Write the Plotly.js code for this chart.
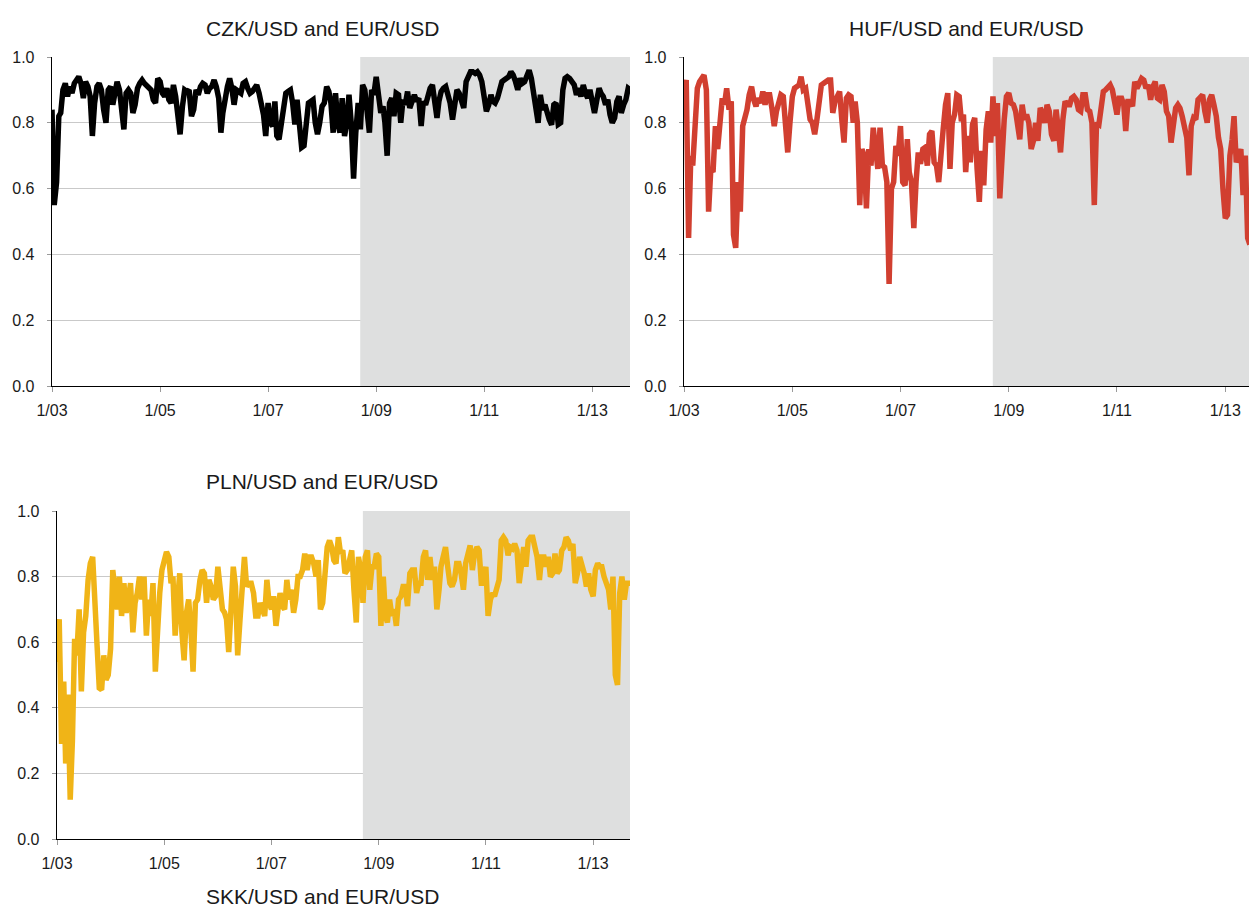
<!DOCTYPE html>
<html>
<head>
<meta charset="utf-8">
<script src="https://cdn.plot.ly/plotly-3.0.1.min.js"></script>
<style>html,body{margin:0;padding:0;background:#fff;}#chart{width:1249px;height:910px;}</style>
</head>
<body>
<div id="chart"></div>
<script>
// Semi-monthly observations (1st and 16th of each month), starting January 2003
const startYear = 2003;

const czk = [
0.84,0.55,0.62,0.82,0.83,0.90,0.92,0.88,0.91,0.89,
0.92,0.93,0.94,0.92,0.875,0.925,0.91,0.88,0.76,0.86,
0.91,0.92,0.90,0.84,0.80,0.90,0.91,0.855,0.90,0.925,
0.90,0.85,0.78,0.89,0.90,0.89,0.83,0.855,0.905,0.92,
0.93,0.92,0.915,0.91,0.90,0.87,0.86,0.935,0.925,0.89,
0.88,0.905,0.87,0.86,0.915,0.88,0.80,0.765,0.85,0.90,
0.895,0.90,0.82,0.84,0.90,0.885,0.91,0.92,0.915,0.89,
0.905,0.91,0.93,0.91,0.875,0.77,0.83,0.885,0.91,0.935,
0.905,0.855,0.90,0.895,0.89,0.92,0.925,0.905,0.89,0.895,
0.905,0.915,0.89,0.86,0.825,0.76,0.86,0.80,0.79,0.865,
0.76,0.75,0.80,0.87,0.89,0.895,0.90,0.86,0.795,0.87,
0.80,0.725,0.73,0.80,0.86,0.865,0.87,0.80,0.765,0.80,
0.85,0.86,0.91,0.895,0.86,0.77,0.89,0.80,0.77,0.875,
0.76,0.80,0.885,0.80,0.63,0.77,0.86,0.78,0.915,0.90,
0.83,0.77,0.90,0.885,0.94,0.875,0.83,0.85,0.80,0.70,
0.86,0.875,0.82,0.89,0.885,0.80,0.87,0.855,0.895,0.845,
0.87,0.885,0.865,0.875,0.79,0.865,0.855,0.885,0.905,0.915,
0.86,0.815,0.865,0.895,0.905,0.91,0.885,0.86,0.81,0.87,
0.90,0.89,0.86,0.845,0.925,0.945,0.955,0.955,0.95,0.955,
0.945,0.925,0.88,0.835,0.855,0.885,0.865,0.86,0.875,0.905,
0.925,0.93,0.935,0.94,0.955,0.945,0.925,0.90,0.935,0.92,
0.925,0.94,0.96,0.935,0.885,0.85,0.80,0.885,0.84,0.855,
0.83,0.81,0.794,0.855,0.86,0.795,0.80,0.90,0.935,0.94,
0.935,0.925,0.915,0.885,0.905,0.88,0.915,0.89,0.875,0.90,
0.855,0.83,0.87,0.905,0.89,0.88,0.855,0.87,0.825,0.80,
0.815,0.865,0.88,0.83,0.855,0.87,0.905,0.90
];

const huf = [
0.90,0.93,0.45,0.70,0.67,0.80,0.905,0.925,0.94,0.945,
0.90,0.53,0.66,0.65,0.79,0.72,0.80,0.875,0.855,0.905,
0.84,0.865,0.46,0.42,0.62,0.53,0.79,0.81,0.84,0.885,
0.91,0.87,0.85,0.875,0.86,0.895,0.855,0.885,0.885,0.845,
0.79,0.835,0.865,0.885,0.88,0.81,0.71,0.80,0.88,0.905,
0.91,0.915,0.94,0.90,0.905,0.865,0.81,0.80,0.765,0.81,
0.88,0.915,0.92,0.925,0.93,0.93,0.83,0.865,0.885,0.895,
0.81,0.74,0.875,0.885,0.88,0.80,0.865,0.80,0.55,0.72,
0.70,0.54,0.72,0.67,0.785,0.73,0.66,0.785,0.67,0.665,
0.62,0.31,0.60,0.62,0.73,0.70,0.79,0.62,0.61,0.75,
0.65,0.62,0.48,0.62,0.71,0.675,0.72,0.725,0.67,0.765,
0.775,0.68,0.67,0.62,0.73,0.78,0.855,0.89,0.66,0.80,
0.825,0.885,0.88,0.805,0.825,0.65,0.76,0.68,0.795,0.815,
0.66,0.56,0.715,0.61,0.78,0.835,0.74,0.88,0.76,0.86,
0.57,0.72,0.81,0.88,0.89,0.86,0.855,0.835,0.80,0.75,
0.855,0.81,0.825,0.80,0.72,0.745,0.80,0.745,0.845,0.83,
0.80,0.855,0.835,0.765,0.745,0.84,0.78,0.71,0.81,0.865,
0.855,0.855,0.875,0.88,0.87,0.84,0.835,0.885,0.885,0.84,
0.835,0.80,0.55,0.80,0.795,0.86,0.895,0.90,0.91,0.915,
0.90,0.86,0.825,0.875,0.875,0.855,0.775,0.865,0.865,0.85,
0.925,0.905,0.92,0.935,0.93,0.905,0.915,0.87,0.91,0.925,
0.875,0.87,0.915,0.895,0.835,0.82,0.74,0.785,0.845,0.855,
0.845,0.82,0.78,0.755,0.64,0.79,0.815,0.81,0.87,0.875,
0.885,0.835,0.80,0.87,0.885,0.855,0.82,0.755,0.72,0.60,
0.51,0.52,0.70,0.75,0.82,0.68,0.70,0.72,0.58,0.70,
0.45,0.43
];

const pln = [
0.54,0.67,0.29,0.48,0.23,0.44,0.12,0.30,0.61,0.56,
0.70,0.45,0.63,0.68,0.79,0.84,0.86,0.75,0.59,0.46,
0.455,0.56,0.485,0.50,0.58,0.82,0.76,0.70,0.80,0.68,
0.78,0.69,0.73,0.78,0.63,0.72,0.75,0.80,0.73,0.80,
0.62,0.73,0.68,0.78,0.51,0.65,0.75,0.82,0.855,0.875,
0.86,0.78,0.80,0.62,0.72,0.81,0.63,0.545,0.69,0.73,
0.64,0.51,0.72,0.73,0.79,0.82,0.81,0.72,0.79,0.77,
0.73,0.74,0.83,0.74,0.70,0.69,0.67,0.57,0.74,0.83,
0.77,0.56,0.67,0.79,0.86,0.77,0.78,0.78,0.75,0.68,
0.68,0.72,0.70,0.68,0.79,0.72,0.70,0.74,0.65,0.72,
0.75,0.71,0.70,0.79,0.73,0.76,0.69,0.73,0.80,0.80,
0.82,0.87,0.82,0.86,0.86,0.84,0.80,0.85,0.70,0.72,
0.84,0.89,0.91,0.89,0.85,0.84,0.92,0.87,0.88,0.81,
0.82,0.86,0.88,0.76,0.66,0.86,0.82,0.72,0.86,0.88,
0.76,0.83,0.83,0.87,0.86,0.65,0.80,0.68,0.66,0.73,
0.68,0.70,0.65,0.73,0.74,0.77,0.77,0.71,0.81,0.82,
0.82,0.75,0.78,0.78,0.86,0.88,0.79,0.86,0.79,0.83,
0.70,0.76,0.83,0.86,0.89,0.83,0.78,0.77,0.79,0.84,
0.84,0.81,0.76,0.84,0.87,0.895,0.82,0.87,0.89,0.88,
0.78,0.78,0.83,0.68,0.73,0.75,0.74,0.76,0.79,0.91,
0.92,0.91,0.865,0.89,0.885,0.90,0.88,0.78,0.86,0.89,
0.83,0.91,0.92,0.92,0.89,0.86,0.79,0.86,0.86,0.83,
0.86,0.80,0.81,0.87,0.81,0.82,0.88,0.89,0.92,0.91,
0.88,0.90,0.78,0.81,0.86,0.84,0.81,0.77,0.81,0.76,
0.74,0.82,0.84,0.83,0.83,0.80,0.78,0.76,0.70,0.80,
0.50,0.47,0.75,0.80,0.73,0.78,0.78,0.78
];

const tickYears = ['2003-01-01','2005-01-01','2007-01-01','2009-01-01','2011-01-01','2013-01-01'];
const tickLabels = ['1/03','1/05','1/07','1/09','1/11','1/13'];
const titles = ['CZK/USD and EUR/USD','HUF/USD and EUR/USD','PLN/USD and EUR/USD','SKK/USD and EUR/USD'];
const crisisStart = '2008-09-15';

function buildDates(n){
  const out = [];
  for (let k = 0; k < n; k++){
    const y = startYear + Math.floor(k / 24);
    const m = Math.floor((k % 24) / 2) + 1;
    const d = (k % 2 === 0) ? '01' : '16';
    out.push(y + '-' + String(m).padStart(2,'0') + '-' + d);
  }
  return out;
}

const FONT = 'Liberation Sans, Arial, Helvetica, sans-serif';
const W = 1249, H = 910;

const traces = [
  {x: buildDates(czk.length), y: czk, xaxis:'x', yaxis:'y', type:'scatter', mode:'lines', line:{color:'#000000', width:5.5}, hoverinfo:'skip'},
  {x: buildDates(huf.length), y: huf, xaxis:'x2', yaxis:'y2', type:'scatter', mode:'lines', line:{color:'#d13f30', width:5.5}, hoverinfo:'skip'},
  {x: buildDates(pln.length), y: pln, xaxis:'x3', yaxis:'y3', type:'scatter', mode:'lines', line:{color:'#f0b417', width:5.5}, hoverinfo:'skip'}
];

function xa(domain, end, anchor){
  return {domain: domain, anchor: anchor, type:'date', range:['2003-01-01', end],
    tickvals: tickYears, ticktext: tickLabels, ticks:'outside', ticklen:5, tickcolor:'#9a9a9a', tickwidth:1,
    showline:true, linecolor:'#000', linewidth:1.3, showgrid:false, zeroline:false,
    tickfont:{family:FONT, size:16, color:'#1a1a1a'}, ticklabelstandoff:4, fixedrange:true};
}
function ya(domain, anchor){
  return {domain: domain, anchor: anchor, range:[0,1], dtick:0.2, tick0:0, tickformat:'.1f',
    ticks:'outside', ticklen:4, tickcolor:'#9a9a9a', tickwidth:1,
    showline:true, linecolor:'#000', linewidth:1.3, showgrid:true, gridcolor:'#c9c9c9', gridwidth:1,
    zeroline:false, tickfont:{family:FONT, size:16, color:'#1a1a1a'}, ticklabelstandoff:9, fixedrange:true};
}

const p1 = {x:[52/W, 630/W], y:[1-386/H, 1-57/H], end:'2013-09-13'};
const p2 = {x:[684/W, 1], y:[1-386/H, 1-57/H], end:'2013-06-10'};
const p3 = {x:[57/W, 630/W], y:[1-839/H, 1-511/H], end:'2013-09-09'};

function shade(xr, yr, end){
  return {type:'rect', xref:xr, yref:yr, x0:crisisStart, x1:end, y0:0, y1:1,
    fillcolor:'#dedfdf', line:{width:0}, layer:'between'};
}

function title(text, xc, yc){
  return {text:text, xref:'paper', yref:'paper', x:xc/W, y:1-yc/H, xanchor:'center', yanchor:'middle',
    showarrow:false, font:{family:FONT, size:21, color:'#1a1a1a'}};
}

const layout = {
  width: W, height: H,
  margin:{l:0, r:0, t:0, b:0},
  paper_bgcolor:'#ffffff', plot_bgcolor:'#ffffff',
  showlegend:false,
  xaxis: xa(p1.x, p1.end, 'y'),
  yaxis: ya(p1.y, 'x'),
  xaxis2: xa(p2.x, p2.end, 'y2'),
  yaxis2: ya(p2.y, 'x2'),
  xaxis3: xa(p3.x, p3.end, 'y3'),
  yaxis3: ya(p3.y, 'x3'),
  shapes:[shade('x','y',p1.end), shade('x2','y2',p2.end), shade('x3','y3',p3.end)],
  annotations:[
    title(titles[0], 322, 28),
    title(titles[1], 966, 28),
    title(titles[2], 322, 481),
    title(titles[3], 322, 896)
  ]
};

Plotly.newPlot('chart', traces, layout, {displayModeBar:false, staticPlot:true});
</script>
</body>
</html>
